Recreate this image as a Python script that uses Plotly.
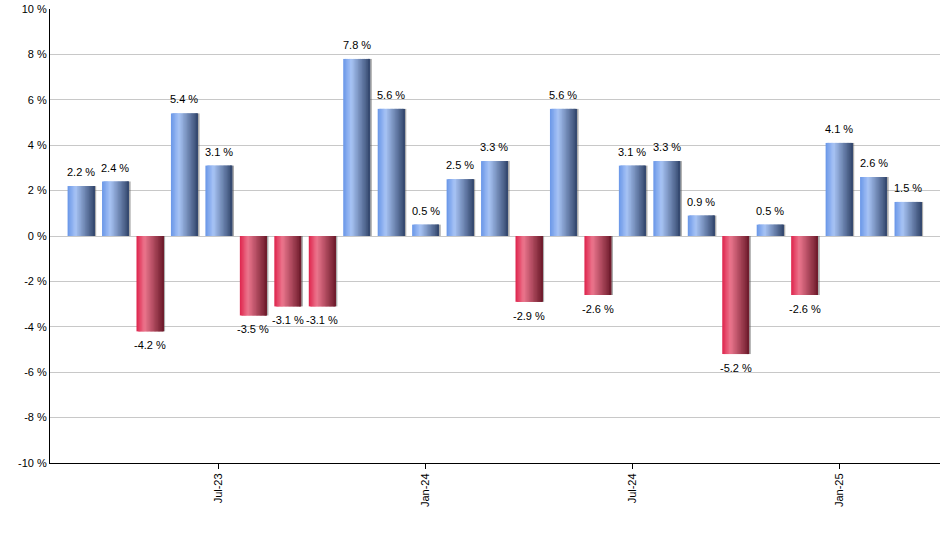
import plotly.graph_objects as go

months = ["Mar-23", "Apr-23", "May-23", "Jun-23", "Jul-23", "Aug-23", "Sep-23", "Oct-23",
          "Nov-23", "Dec-23", "Jan-24", "Feb-24", "Mar-24", "Apr-24", "May-24", "Jun-24",
          "Jul-24", "Aug-24", "Sep-24", "Oct-24", "Nov-24", "Dec-24", "Jan-25", "Feb-25", "Mar-25"]
returns = [2.2, 2.4, -4.2, 5.4, 3.1, -3.5, -3.1, -3.1, 7.8, 5.6, 0.5, 2.5, 3.3, -2.9, 5.6, -2.6,
           3.1, 3.3, 0.9, -5.2, 0.5, -2.6, 4.1, 2.6, 1.5]
tick_labels = ["Jul-23", "Jan-24", "Jul-24", "Jan-25"]
y_ticks = list(range(-10, 11, 2))

x = list(range(len(months)))
tick_pos = [months.index(t) for t in tick_labels]

blue_stops = [(0.0, (105, 150, 232)), (0.3, (168, 196, 245)), (1.0, (50, 70, 108))]
red_stops = [(0.0, (222, 36, 76)), (0.3, (236, 118, 142)), (1.0, (108, 26, 42))]


def grad(stops, t):
    for (t0, c0), (t1, c1) in zip(stops, stops[1:]):
        if t <= t1:
            f = (t - t0) / (t1 - t0)
            return "rgb(%d,%d,%d)" % tuple(round(a + (b - a) * f) for a, b in zip(c0, c1))
    return "rgb(%d,%d,%d)" % stops[-1][1]


fig = go.Figure()

w = 0.78
n = 20
sw = w / n
pos = [v if v > 0 else 0 for v in returns]
neg = [v if v < 0 else 0 for v in returns]

# shadow
fig.add_trace(go.Bar(x=x, y=returns, width=0.06, offset=w / 2 - 0.01,
                     marker=dict(color="rgba(90,90,90,0.5)", line_width=0),
                     hoverinfo="skip", showlegend=False))

# gradient made of overlapping vertical strips
for i in range(n):
    t = (i + 0.5) / n
    off = -w / 2 + i * sw
    wid = min(sw * 2.5, w / 2 - off)
    fig.add_trace(go.Bar(x=x, y=pos, width=wid, offset=off,
                         marker=dict(color=grad(blue_stops, t), line_width=0),
                         hoverinfo="skip", showlegend=False))
    fig.add_trace(go.Bar(x=x, y=neg, width=wid, offset=off,
                         marker=dict(color=grad(red_stops, t), line_width=0),
                         hoverinfo="skip", showlegend=False))

# value labels
for xi, v in zip(x, returns):
    fig.add_annotation(x=xi, y=v, text=f"{v:.1f} %", showarrow=False,
                       yshift=14 if v >= 0 else -14,
                       font=dict(family="Liberation Sans", size=11, color="black"))

fig.update_layout(
    width=940, height=550,
    margin=dict(l=50, r=0, t=9, b=87),
    barmode="overlay",
    plot_bgcolor="white", paper_bgcolor="white",
    font=dict(family="Liberation Sans", size=11, color="black"),
    xaxis=dict(range=[-0.9, 24.93], tickmode="array", tickvals=tick_pos, ticktext=tick_labels,
               tickangle=-90, ticks="outside", ticklen=5, tickcolor="black",
               showline=True, linecolor="black", linewidth=1, showgrid=False,
               zeroline=False, automargin=False),
    yaxis=dict(range=[-10, 10], tickmode="array", tickvals=y_ticks,
               ticktext=[f"{v} %" for v in y_ticks],
               showline=True, linecolor="black", linewidth=1, automargin=False,
               showgrid=True, gridcolor="#c8c8c8", zeroline=False, ticks=""),
)

# drop the default page margin so the figure sits at the window corner
fig.write_html("out.html", config={"displayModeBar": False},
               post_script="document.body.style.margin = '0';")
